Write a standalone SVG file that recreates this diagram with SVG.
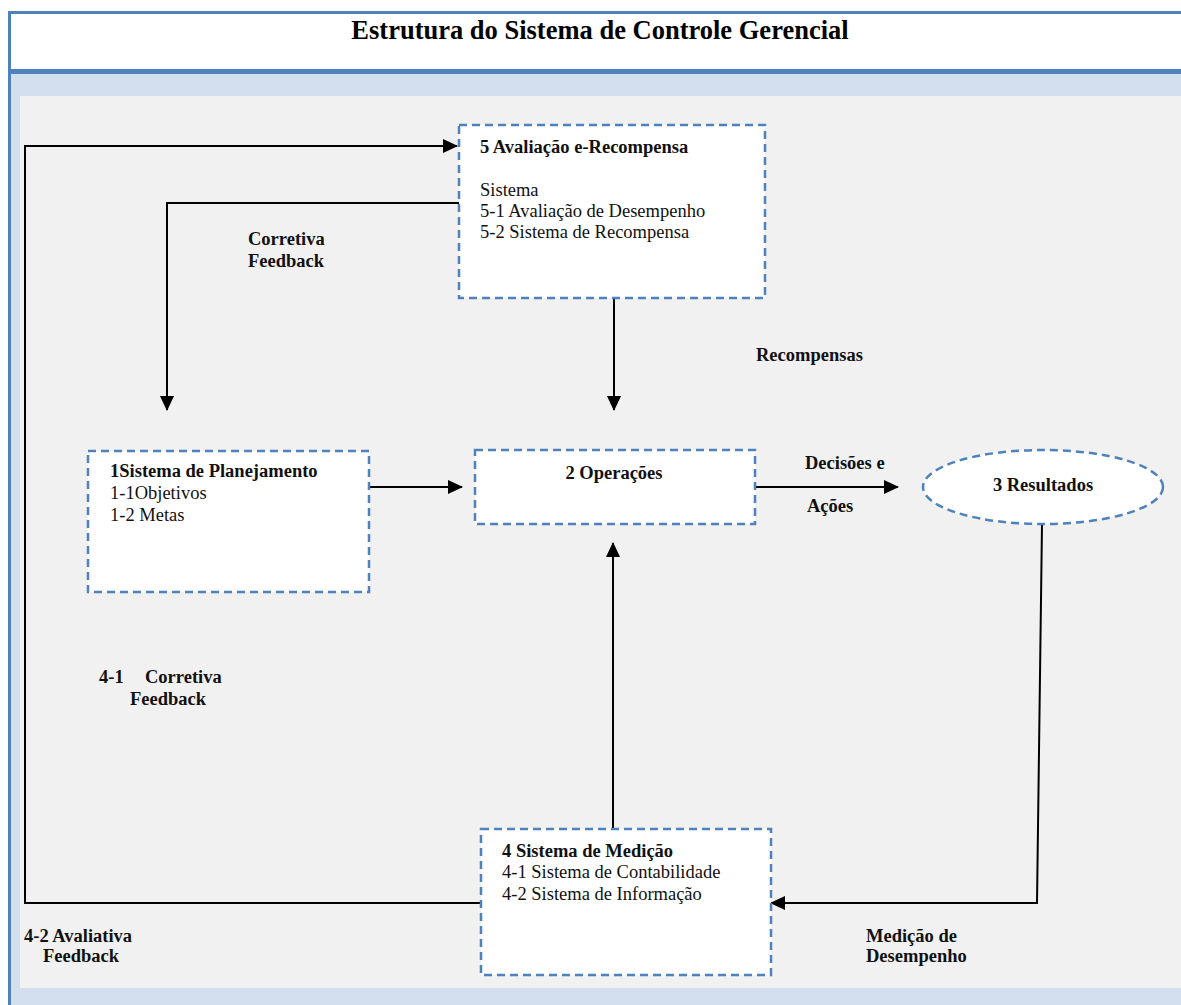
<svg xmlns="http://www.w3.org/2000/svg" width="1181" height="1005" viewBox="0 0 1181 1005">
<style>
.box{fill:#FFFFFF;stroke:#4F81BD;stroke-width:2.5;stroke-dasharray:8,5}
.b{font-family:"Liberation Serif","Times New Roman",serif;font-size:18.5px;font-weight:bold;fill:#111}
.n{font-family:"Liberation Serif","Times New Roman",serif;font-size:18.5px;fill:#111}
.c{fill:none;stroke:#000;stroke-width:2}
</style>
<defs>
<marker id="ah" markerWidth="15" markerHeight="14" refX="14" refY="7" orient="auto" markerUnits="userSpaceOnUse">
<path d="M0,0 L15,7 L0,14 Z" fill="#000"/>
</marker>
</defs>
<rect x="0" y="0" width="1181" height="1005" fill="#FFFFFF"/>
<rect x="11" y="74" width="1170" height="931" fill="#D3DFEE"/>
<rect x="20" y="96" width="1161" height="892" fill="#F1F1F1"/>
<rect x="8" y="11" width="1173" height="3" fill="#4F81BD"/>
<rect x="8" y="11" width="3" height="994" fill="#4F81BD"/>
<rect x="11" y="69" width="1170" height="5" fill="#4F81BD"/>
<text x="600" y="39" text-anchor="middle" font-family="Liberation Serif,'Times New Roman',serif" font-size="26.5" font-weight="bold" fill="#000">Estrutura do Sistema de Controle Gerencial</text>

<g id="connectors">
<polyline class="c" points="481,903 25,903 25,146 457,146" marker-end="url(#ah)"/>
<polyline class="c" points="459,203 167,203 167,410" marker-end="url(#ah)"/>
<line class="c" x1="614" y1="298" x2="614" y2="410" marker-end="url(#ah)"/>
<line class="c" x1="369" y1="487" x2="462" y2="487" marker-end="url(#ah)"/>
<line class="c" x1="755" y1="487" x2="898" y2="487" marker-end="url(#ah)"/>
<line class="c" x1="613" y1="829" x2="613" y2="543" marker-end="url(#ah)"/>
<polyline class="c" points="1042,524 1037,903 771,903" marker-end="url(#ah)"/>
</g>

<g id="node5">
<rect class="box" x="459" y="125" width="306" height="173"/>
<text class="b" x="480" y="153">5 Avaliação e-Recompensa</text>
<text class="n" x="480" y="196">Sistema</text>
<text class="n" x="480" y="217">5-1 Avaliação de Desempenho</text>
<text class="n" x="480" y="238">5-2 Sistema de Recompensa</text>
</g>
<g id="node1">
<rect class="box" x="88" y="451" width="281" height="141"/>
<text class="b" x="110" y="477">1Sistema de Planejamento</text>
<text class="n" x="110" y="499">1-1Objetivos</text>
<text class="n" x="110" y="521">1-2 Metas</text>
</g>
<g id="node2">
<rect class="box" x="475" y="450" width="280" height="74"/>
<text class="b" x="614" y="479" text-anchor="middle">2 Operações</text>
</g>
<g id="node3">
<ellipse cx="1043" cy="487" rx="120" ry="37" fill="#FFFFFF" stroke="#4F81BD" stroke-width="2.5" stroke-dasharray="8,5"/>
<text class="b" x="1043" y="491" text-anchor="middle">3 Resultados</text>
</g>
<g id="node4">
<rect class="box" x="481" y="829" width="290" height="146"/>
<text class="b" x="502" y="857">4 Sistema de Medição</text>
<text class="n" x="502" y="878">4-1 Sistema de Contabilidade</text>
<text class="n" x="502" y="900">4-2 Sistema de Informação</text>
</g>

<g id="labels">
<text class="b" x="248" y="245">Corretiva</text>
<text class="b" x="248" y="267">Feedback</text>
<text class="b" x="756" y="361">Recompensas</text>
<text class="b" x="805" y="469">Decisões e</text>
<text class="b" x="807" y="512">Ações</text>
<text class="b" x="99" y="683">4-1</text>
<text class="b" x="145" y="683">Corretiva</text>
<text class="b" x="130" y="705">Feedback</text>
<text class="b" x="24" y="942">4-2 Avaliativa</text>
<text class="b" x="43" y="962">Feedback</text>
<text class="b" x="866" y="942">Medição de</text>
<text class="b" x="866" y="962">Desempenho</text>
</g>
</svg>
